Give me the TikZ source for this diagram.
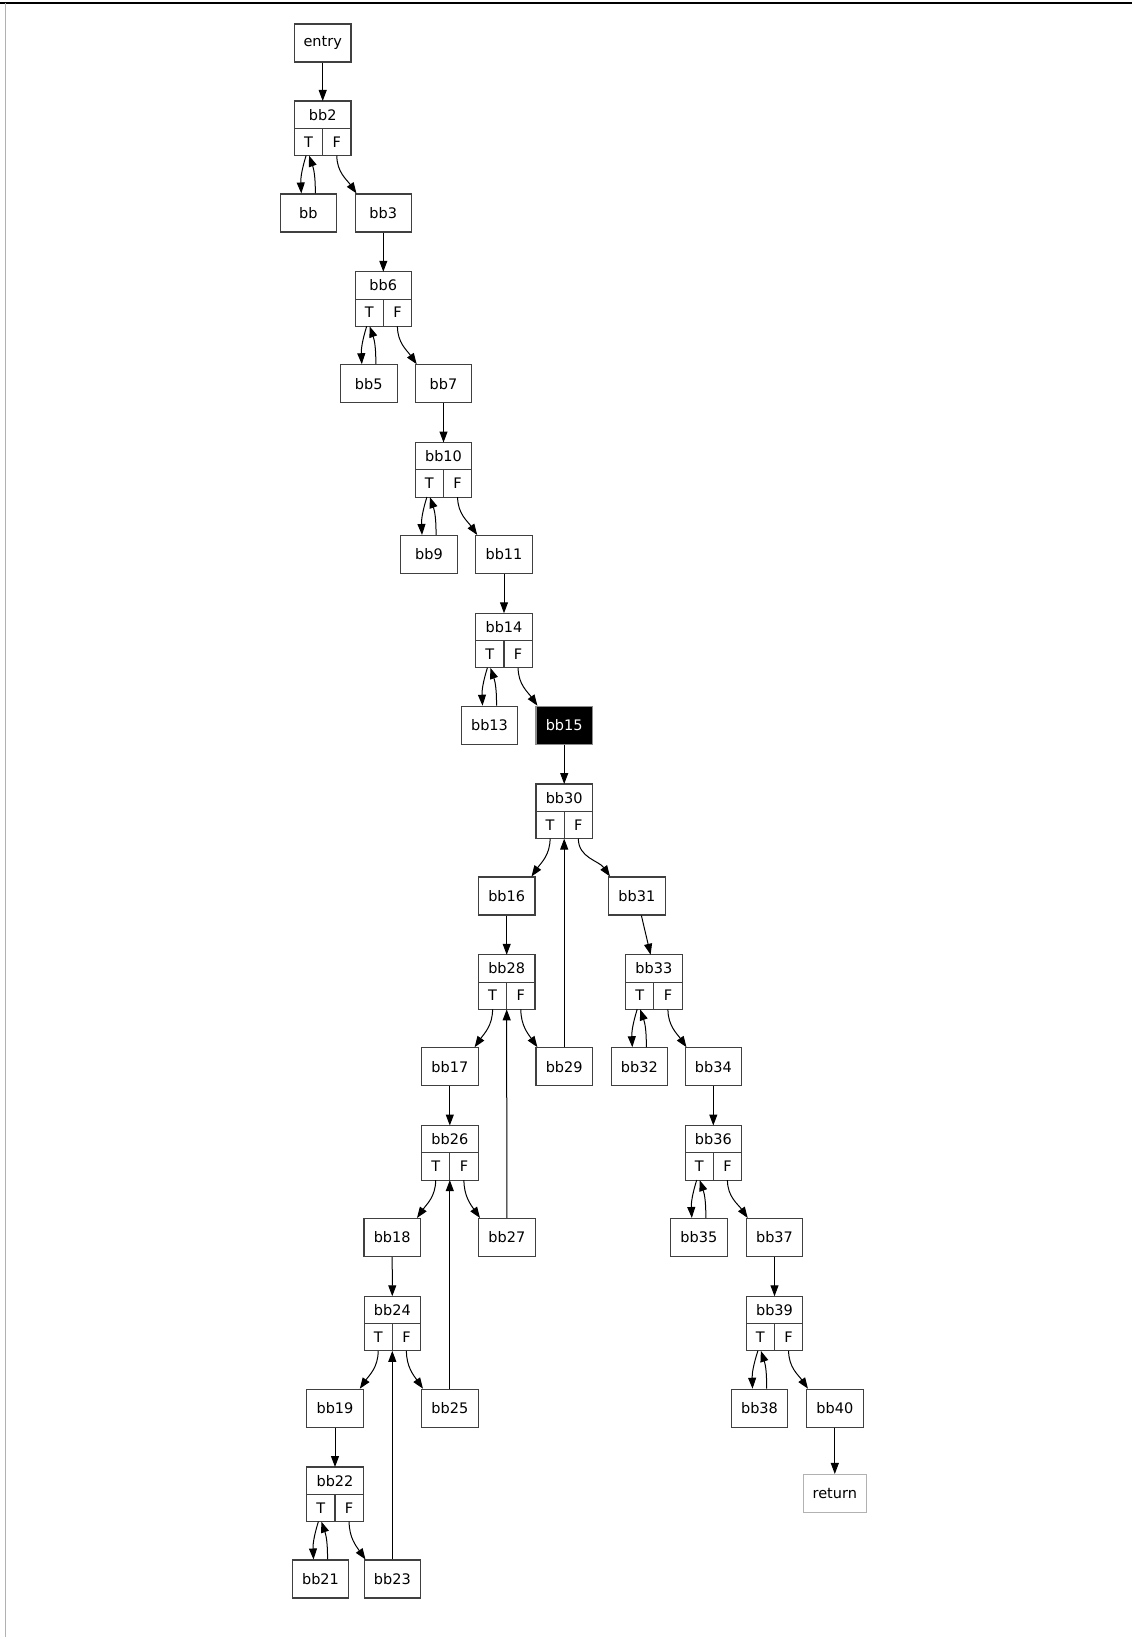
\documentclass[tikz,border=0pt]{standalone}
\usepackage{fontspec}
\setmainfont{DejaVu Sans}
\usepackage{tikz}
\usetikzlibrary{arrows.meta,positioning,calc}

\begin{document}
\begin{tikzpicture}[x=1pt,y=1pt,
	font=\fontsize{14.5}{17}\selectfont,
	blk/.style={draw=black!75, line width=1.1pt, minimum width=56.5pt, minimum height=38pt, inner sep=0pt},
	cell/.style={draw=black!75, line width=1.1pt, minimum width=56.5pt, minimum height=27.3pt, inner sep=0pt, outer sep=0pt},
	half/.style={draw=black!75, line width=1.1pt, minimum width=28.25pt, minimum height=27.3pt, inner sep=0pt, outer sep=0pt},
	edge/.style={line width=1pt, -{Triangle[length=11pt,width=8pt]}}]
	\useasboundingbox (0,0) rectangle (1132,-1637);
	\draw[line width=1.5pt] (0,-3) -- (1132,-3);
	\draw[black!30, line width=1pt] (5.3,-3) -- (5.3,-1637);
	\foreach \n/\x/\k in {bb2/322.7/0, bb6/383.3/1, bb10/443.5/2, bb14/504/3, bb30/564.2/4, bb28/506.7/5, bb33/653.8/5, bb26/449.8/6, bb36/713.3/6, bb24/392.3/7, bb39/774.5/7, bb22/335/8} {
		\node[cell, anchor=north] (\n) at (\x,{-101-170.75*\k}) {\n};
		\node[half, anchor=north east] (\n-T) at (\n.south) {T};
		\node[half, anchor=north west] (\n-F) at (\n.south) {F};
	}
	\node[blk] (entry) at (322.7,-43) {entry};
	\foreach \n/\x/\k in {bb/308.3/0, bb3/383.3/0, bb5/368.8/1, bb7/443.5/1, bb9/429/2, bb11/504/2, bb13/489.5/3, bb16/506.7/4, bb31/636.8/4, bb17/449.8/5, bb29/564.2/5, bb32/639.3/5, bb34/713.3/5, bb18/392.2/6, bb27/506.8/6, bb35/698.8/6, bb37/774.5/6, bb19/335/7, bb25/449.8/7, bb38/759.5/7, bb40/834.8/7, bb21/320.5/8, bb23/392.3/8} {
		\node[blk] (\n) at (\x,{-213-170.75*\k}) {\n};
	}
	\node[blk, fill=black, draw=black!45, text=white] (bb15) at (564.2,{-213-170.75*3}) {bb15};
	\node[blk, draw=black!30, minimum width=63pt] (ret) at (834.8,-1493.5) {return};
	\foreach \a/\b in {entry/bb2, bb3/bb6, bb7/bb10, bb11/bb14, bb15/bb30, bb16/bb28, bb31/bb33, bb17/bb26, bb34/bb36, bb18/bb24, bb37/bb39, bb19/bb22, bb40/ret} {
		\draw[edge] (\a) -- (\b);
	}
	\foreach \r/\c in {bb2/bb, bb6/bb5, bb10/bb9, bb14/bb13, bb33/bb32, bb36/bb35, bb39/bb38, bb22/bb21} {
		\draw[edge] ([xshift=-2.5pt]\r-T.south) to[bend right=10] ([xshift=-7pt]\c.north);
		\draw[edge] ([xshift=7pt]\c.north) to[bend right=10] ([xshift=0.5pt]\r-T.south);
	}
	\foreach \r/\c in {bb30/bb16, bb28/bb17, bb26/bb18, bb24/bb19} {
		\draw[edge] (\r-T.south) to[out=-90,in=55] ([xshift=-4pt]\c.north east);
	}
	\foreach \r/\c in {bb2/bb3, bb6/bb7, bb10/bb11, bb14/bb15, bb30/bb31, bb28/bb29, bb33/bb34, bb26/bb27, bb36/bb37, bb24/bb25, bb39/bb40, bb22/bb23} {
		\draw[edge] (\r-F.south) to[out=-90,in=125] ([xshift=2pt]\c.north west);
	}
	\foreach \c/\r in {bb29/bb30, bb27/bb28, bb25/bb26, bb23/bb24} {
		\draw[edge] (\c.north) -- (\r-T.south east);
	}
\end{tikzpicture}
\end{document}
